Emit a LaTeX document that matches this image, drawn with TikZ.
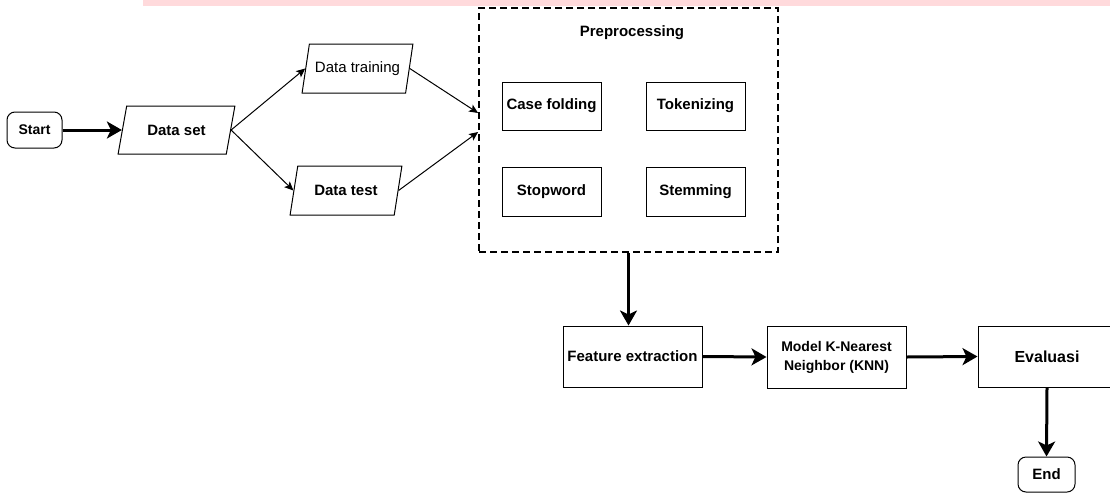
\documentclass[tikz,border=0pt]{standalone}
\usepackage{fontspec}
\setmainfont{Liberation Sans}
\usetikzlibrary{shapes.geometric,arrows.meta,calc}
\definecolor{pinkband}{RGB}{255,218,220}
\tikzset{
  box/.style={draw, line width=1pt, rectangle, inner sep=1pt, font=\fontsize{15}{18}\selectfont\bfseries},
  rbox/.style={draw, line width=1pt, rectangle, rounded corners=8pt, inner sep=1pt, font=\fontsize{14}{17}\selectfont\bfseries},
  para/.style={draw, line width=1pt, trapezium, trapezium left angle=68, trapezium right angle=112,
    trapezium stretches=true, inner xsep=0pt, inner ysep=1pt},
  dashbox/.style={draw, line width=1.8pt, dash pattern=on 7pt off 4pt},
  thick arrow/.style={line width=3pt, -{Stealth[length=15pt,width=17pt,inset=4pt]}},
  thin arrow/.style={line width=1pt, -{Stealth[length=9pt,width=8pt,inset=2pt]}},
  lbl/.style={inner sep=0pt, font=\fontsize{15}{18}\selectfont\bfseries}
}
\begin{document}
\begin{tikzpicture}[x=1pt,y=-1pt]
\useasboundingbox (0,0) rectangle (1110,493);
\clip (0,0) rectangle (1110,493);
\fill[pinkband] (143,0) rectangle (1110,6);

% start
\node[rbox, minimum width=55pt, minimum height=36pt] (start) at (34.5,130) {Start};
% data set
\node[para, minimum width=117pt, minimum height=48pt, font=\fontsize{15}{18}\selectfont\bfseries] (ds) at (176.5,130) {Data set};
\node[para, minimum width=111pt, minimum height=49pt, font=\fontsize{15}{18}\selectfont] (dtr) at (357.5,68.5) {Data training};
\node[para, minimum width=112pt, minimum height=49pt, font=\fontsize{15}{18}\selectfont\bfseries] (dte) at (346,190.5) {Data test};

% preprocessing
\node[dashbox, minimum width=299pt, minimum height=244pt] (pre) at (628.5,130) {};
\node[lbl] (prelbl) at (632,33) {Preprocessing};
\node[box, minimum width=99pt, minimum height=48pt] (cf) at (551.5,106) {Case folding};
\node[box, minimum width=99pt, minimum height=48pt] (tok) at (695.5,106) {Tokenizing};
\node[box, minimum width=99pt, minimum height=49pt] (sw) at (551.5,191.5) {Stopword};
\node[box, minimum width=99pt, minimum height=49pt] (stem) at (695.5,191.5) {Stemming};

% lower row
\node[box, minimum width=139pt, minimum height=61pt] (fe) at (632.5,356.5) {Feature extraction};
\node[box, minimum width=139pt, minimum height=62pt, align=center, font=\fontsize{14}{19}\selectfont\bfseries] (knn) at (836.5,357) {Model K-Nearest\\Neighbor (KNN)};
\node[box, minimum width=138pt, minimum height=61pt, font=\fontsize{16}{19}\selectfont\bfseries] (ev) at (1047,356.5) {Evaluasi};
\node[rbox, minimum width=57pt, minimum height=35pt, font=\fontsize{15}{18}\selectfont\bfseries] (end) at (1046.5,474.5) {End};

% helper coordinates
\coordinate (dsR) at ($(ds.top right corner)!.5!(ds.bottom right corner)$);
\coordinate (dsL) at ($(ds.top left corner)!.5!(ds.bottom left corner)$);
\coordinate (dtrL) at ($(dtr.top left corner)!.5!(dtr.bottom left corner)$);
\coordinate (dtrR) at ($(dtr.top right corner)!.5!(dtr.bottom right corner)$);
\coordinate (dteL) at ($(dte.top left corner)!.5!(dte.bottom left corner)$);
\coordinate (dteR) at ($(dte.top right corner)!.5!(dte.bottom right corner)$);
\coordinate (preIn1) at ($(pre.west)+(0,-17)$);
\coordinate (preIn2) at ($(pre.west)+(0,2)$);

% connectors
\draw[thick arrow] (start.east) -- (dsL);
\draw[thin arrow] (dsR) -- (dtrL);
\draw[thin arrow] (dsR) -- (dteL);
\draw[thin arrow] (dtrR) -- (preIn1);
\draw[thin arrow] (dteR) -- (preIn2);
\draw[thick arrow] (pre.south) -- (pre.south |- fe.north);
\draw[thick arrow] (fe.east) -- (knn.west);
\draw[thick arrow] (knn.east) -- (ev.west);
\draw[thick arrow] (ev.south) -- (end.north);
\end{tikzpicture}
\end{document}
